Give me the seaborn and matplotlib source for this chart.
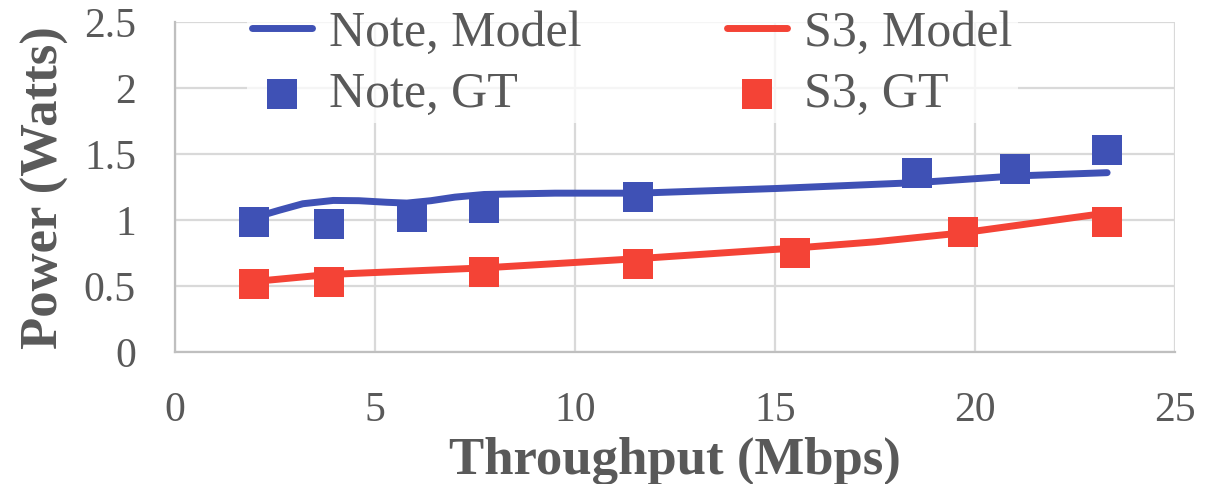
import matplotlib
matplotlib.use("Agg")
import matplotlib.pyplot as plt
import seaborn as sns
import pandas as pd

# ground-truth measurements (squares)
note_gt_x = [1.98, 3.85, 5.93, 7.73, 11.58, 18.55, 21.0, 23.3]
note_gt_y = [0.99, 0.97, 1.025, 1.09, 1.175, 1.355, 1.39, 1.535]
s3_gt_x = [1.98, 3.85, 7.73, 11.58, 15.5, 19.69, 23.3]
s3_gt_y = [0.515, 0.53, 0.61, 0.67, 0.755, 0.91, 0.99]

# model curves
note_model_x = [1.98, 2.6, 3.2, 3.96, 4.6, 5.3, 5.8, 6.4, 7.0, 7.73, 9.5, 11.58, 15.0, 18.55, 21.0, 23.3]
note_model_y = [1.02, 1.075, 1.125, 1.15, 1.148, 1.136, 1.13, 1.148, 1.175, 1.195, 1.205, 1.205, 1.24, 1.285, 1.335, 1.36]
s3_model_x = [1.98, 3.85, 7.73, 9.95, 11.58, 15.5, 17.5, 19.69, 23.3]
s3_model_y = [0.537, 0.59, 0.64, 0.68, 0.71, 0.79, 0.837, 0.905, 1.055]

x_ticks = [0, 5, 10, 15, 20, 25]
y_ticks = [0, 0.5, 1, 1.5, 2, 2.5]
y_tick_labels = ["0", "0.5", "1", "1.5", "2", "2.5"]

blue = "#3f51b5"
red = "#f44336"
text_col = "#595959"

sns.set_theme(style="whitegrid")
plt.rcParams["font.family"] = ["Liberation Serif", "DejaVu Serif"]

fig = plt.figure(figsize=(12.14, 4.84), dpi=100)
ax = fig.add_axes([0.144, 0.2717, 0.824, 0.683])

sns.lineplot(x=note_model_x, y=note_model_y, ax=ax, color=blue, linewidth=5,
             sort=False, label="Note, Model", solid_capstyle="round")
sns.scatterplot(x=note_gt_x, y=note_gt_y, ax=ax, color=blue, marker="s",
                s=470, linewidth=0, label="Note, GT", zorder=3)
sns.lineplot(x=s3_model_x, y=s3_model_y, ax=ax, color=red, linewidth=5,
             sort=False, label="S3, Model", solid_capstyle="round")
sns.scatterplot(x=s3_gt_x, y=s3_gt_y, ax=ax, color=red, marker="s",
                s=470, linewidth=0, label="S3, GT", zorder=3)

ax.set_xlim(0, 25)
ax.set_ylim(0, 2.5)
ax.set_xticks(x_ticks)
ax.set_yticks(y_ticks)
ax.set_yticklabels(y_tick_labels)
ax.grid(True, color="#d9d9d9", linewidth=1.6)
ax.set_axisbelow(True)
for side in ["top", "right"]:
    ax.spines[side].set_visible(False)
for side in ["left", "bottom"]:
    ax.spines[side].set_color("#bfbfbf")
    ax.spines[side].set_linewidth(1.6)

ax.tick_params(axis="x", length=0, pad=28, labelsize=30, labelcolor=text_col)
ax.tick_params(axis="y", length=0, pad=28, labelsize=30, labelcolor=text_col)

ax.set_xlabel("Throughput (Mbps)", fontsize=38, fontweight="bold", color=text_col, labelpad=5)
ax.set_ylabel("Power (Watts)", fontsize=38, fontweight="bold", color=text_col, labelpad=11)

handles, labels = ax.get_legend_handles_labels()
leg = ax.legend(handles, labels,
                ncol=2, loc="upper left", bbox_to_anchor=(0.047, 1.126),
                frameon=True, framealpha=0.75, edgecolor="none",
                fontsize=36, handlelength=1.2, handletextpad=0.35,
                columnspacing=2.9, labelspacing=0.3, borderpad=0.1)
for t in leg.get_texts():
    t.set_color(text_col)

fig.savefig("out.png", dpi=100)
